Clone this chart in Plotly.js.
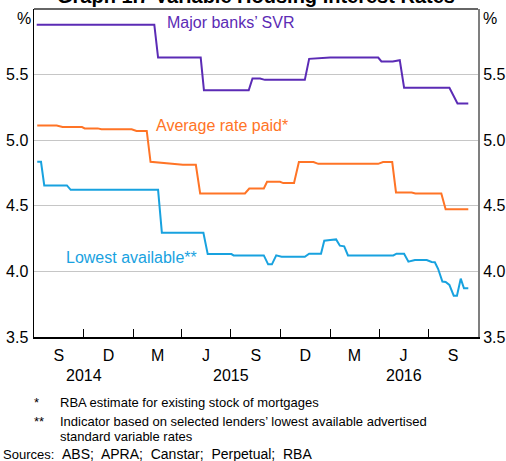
<!DOCTYPE html>
<html>
<head>
<meta charset="utf-8">
<script src="https://cdn.plot.ly/plotly-3.0.1.min.js"></script>
<style>
html,body{margin:0;padding:0;background:#fff;}
#chart{width:506px;height:461px;}
</style>
</head>
<body>
<div id="chart"></div>
<script>
// ---- Data ----
const svrDates = ['2014-07-06','2015-02-09','2015-02-16','2015-05-06','2015-05-12','2015-08-03','2015-08-10','2015-08-24','2015-09-02','2015-11-15','2015-11-23','2016-01-01','2016-03-30','2016-04-05','2016-04-26','2016-05-09','2016-05-17','2016-08-09','2016-08-24','2016-09-13'];
const svrValues = [5.88,5.88,5.63,5.63,5.38,5.38,5.47,5.47,5.46,5.46,5.62,5.63,5.63,5.60,5.60,5.61,5.40,5.40,5.28,5.28];

const avgDates = ['2014-07-07','2014-08-12','2014-08-23','2014-09-28','2014-10-03','2014-10-27','2014-11-03','2014-12-29','2015-01-07','2015-01-26','2015-02-02','2015-03-03','2015-04-03','2015-04-27','2015-05-05','2015-07-27','2015-08-04','2015-08-31','2015-09-06','2015-09-30','2015-10-06','2015-10-26','2015-11-04','2015-12-01','2015-12-10','2016-03-30','2016-04-08','2016-04-25','2016-05-02','2016-05-31','2016-06-07','2016-07-25','2016-08-02','2016-09-13'];
const avgValues = [5.112,5.112,5.10,5.10,5.09,5.09,5.083,5.083,5.071,5.071,4.835,4.823,4.812,4.812,4.594,4.594,4.632,4.632,4.683,4.683,4.673,4.673,4.833,4.833,4.82,4.82,4.833,4.833,4.602,4.602,4.594,4.594,4.473,4.473];

const lowDates = ['2014-07-07','2014-07-14','2014-07-20','2014-08-31','2014-09-07','2015-02-16','2015-02-23','2015-05-11','2015-05-19','2015-07-02','2015-07-06','2015-08-31','2015-09-08','2015-09-15','2015-09-23','2015-10-03','2015-11-15','2015-11-23','2015-12-15','2015-12-21','2016-01-01','2016-01-12','2016-01-19','2016-01-27','2016-02-03','2016-04-27','2016-05-03','2016-05-17','2016-05-25','2016-06-06','2016-06-28','2016-07-07','2016-07-13','2016-07-19','2016-07-27','2016-08-02','2016-08-09','2016-08-17','2016-08-23','2016-08-30','2016-09-05','2016-09-13'];
const lowValues = [4.835,4.835,4.655,4.655,4.622,4.622,4.295,4.295,4.132,4.132,4.122,4.122,4.054,4.054,4.122,4.112,4.112,4.135,4.135,4.234,4.239,4.244,4.196,4.191,4.122,4.122,4.135,4.135,4.074,4.087,4.087,4.072,4.07,4.02,3.923,3.92,3.897,3.815,3.815,3.945,3.871,3.871];

const xRange = ['2014-07-01','2016-10-01'];
const quarterStarts = ['2014-07-01','2014-10-01','2015-01-01','2015-04-01','2015-07-01','2015-10-01','2016-01-01','2016-04-01','2016-07-01','2016-10-01'];
const quarterLabels = ['S','D','M','J','S','D','M','J','S'];
const yearLabels = ['2014','2015','2016'];
const yTicks = [3.5,4.0,4.5,5.0,5.5];
const yTickText = ['3.5','4.0','4.5','5.0','5.5'];

const seriesNames = ['Major banks’ SVR','Average rate paid*','Lowest available**'];
const titleText = 'Graph 1.7 Variable Housing Interest Rates';
const footnoteMarks = ['*','**',''];
const footnoteLines = ['RBA estimate for existing stock of mortgages','Indicator based on selected lenders’ lowest available advertised','standard variable rates'];
const sourceList = ['ABS','APRA','Canstar','Perpetual','RBA'];

// ---- Styling / helpers ----
const FONT = 'Liberation Sans, Arial, sans-serif';
const PURPLE = '#5b2bb5', ORANGE = '#ff7426', BLUE = '#18a2df';
const W = 506, H = 461, ML = 34, MR = 28, MT = 9, MB = 124;
const PW = W - ML - MR, PH = H - MT - MB;
const px2paperX = px => (px - ML) / PW;
const py2paperY = py => 1 - (py - MT) / PH;

function t(d){ return new Date(d + 'T00:00:00Z').getTime(); }
function iso(ms){ return new Date(ms).toISOString().slice(0,10); }
function mid(a,b){ return iso((t(a)+t(b))/2); }

const quarterMids = quarterLabels.map((_, i) => mid(quarterStarts[i], quarterStarts[i+1]));
const yearMids = yearLabels.map(y => {
  const s = Math.max(t(y + '-01-01'), t(xRange[0]));
  const e = Math.min(t((+y + 1) + '-01-01'), t(xRange[1]));
  return iso((s + e) / 2);
});

const traces = [
  {x: svrDates, y: svrValues, type: 'scatter', mode: 'lines', line: {color: PURPLE, width: 2}, hoverinfo: 'skip', name: seriesNames[0]},
  {x: avgDates, y: avgValues, type: 'scatter', mode: 'lines', line: {color: ORANGE, width: 2}, hoverinfo: 'skip', name: seriesNames[1]},
  {x: lowDates, y: lowValues, type: 'scatter', mode: 'lines', line: {color: BLUE, width: 2}, hoverinfo: 'skip', name: seriesNames[2]},
  {x: [xRange[0]], y: [3.5], xaxis: 'x2', yaxis: 'y2', type: 'scatter', mode: 'markers', marker: {opacity: 0}, hoverinfo: 'skip', showlegend: false}
];

const annotations = [];
function note(px, py, text, size, color, xanchor, extra){
  annotations.push(Object.assign({x: px2paperX(px), xref: 'paper', y: py2paperY(py), yref: 'paper', text: text, showarrow: false,
    xanchor: xanchor || 'left', yanchor: 'middle', borderpad: 0, font: {family: FONT, size: size, color: color || '#000'}}, extra || {}));
}
yearLabels.forEach((y, i) => annotations.push({
  x: yearMids[i], xref: 'x', y: py2paperY(375), yref: 'paper', text: y, showarrow: false,
  xanchor: 'center', yanchor: 'middle', font: {family: FONT, size: 16, color: '#000'}
}));
note(24, 18, '%', 16, '#000', 'center');
note(490, 18, '%', 16, '#000', 'center');
note(166, 22, seriesNames[0], 16, PURPLE);
note(155, 125, seriesNames[1], 16, ORANGE);
note(65, 257, seriesNames[2], 16, BLUE);
annotations.push({x: 0.5, xref: 'paper', y: 1, yref: 'paper', text: '<b>' + titleText + '</b>', showarrow: false, xanchor: 'center', yanchor: 'bottom', font: {family: FONT, size: 20, color: '#000'}});
const fnY = [402, 421, 436];
footnoteLines.forEach((line, i) => {
  if (footnoteMarks[i]) note(33, fnY[i], footnoteMarks[i], 13);
  note(59, fnY[i], line, 13);
});
note(2, 454, 'Sources:', 13);
note(61, 454, sourceList.join(';&nbsp; '), 14);

const layout = {
  width: W, height: H,
  margin: {l: ML, r: MR, t: MT, b: MB, pad: 0},
  paper_bgcolor: '#fff', plot_bgcolor: '#fff',
  showlegend: false,
  font: {family: FONT, size: 16, color: '#000'},
  xaxis: {
    type: 'date', range: xRange, tickvals: quarterStarts.slice(1, -1), ticks: 'inside', ticklen: 8, tickwidth: 1, tickcolor: '#000',
    showticklabels: false, showgrid: false, zeroline: false, showline: true, linecolor: '#000', linewidth: 1.5, fixedrange: true
  },
  xaxis2: {
    type: 'date', overlaying: 'x', side: 'bottom', range: xRange, tickvals: quarterMids, ticktext: quarterLabels, ticks: '',
    showgrid: false, zeroline: false, showline: false, tickfont: {family: FONT, size: 16, color: '#000'}, ticklabelstandoff: 7, anchor: 'y', fixedrange: true
  },
  yaxis: {
    range: [3.5, 6.0], tickvals: yTicks, ticktext: yTickText, ticks: '', showgrid: true, gridcolor: '#c6c6c6', gridwidth: 1.2,
    zeroline: false, showline: true, linecolor: '#000', linewidth: 1.5, tickfont: {family: FONT, size: 16, color: '#000'}, ticklabelstandoff: 1, fixedrange: true
  },
  yaxis2: {
    range: [3.5, 6.0], overlaying: 'y', side: 'right', tickvals: yTicks, ticktext: yTickText, ticks: '', showgrid: false,
    zeroline: false, showline: true, linecolor: '#7f7f7f', linewidth: 2, tickfont: {family: FONT, size: 16, color: '#000'}, ticklabelstandoff: 0, fixedrange: true
  },
  shapes: [
    {type: 'line', xref: 'paper', yref: 'paper', x0: 0, x1: 1, y0: 1, y1: 1, line: {color: '#333', width: 1.5}}
  ],
  annotations: annotations
};

Plotly.newPlot('chart', traces, layout, {staticPlot: true, displayModeBar: false});
</script>
</body>
</html>
